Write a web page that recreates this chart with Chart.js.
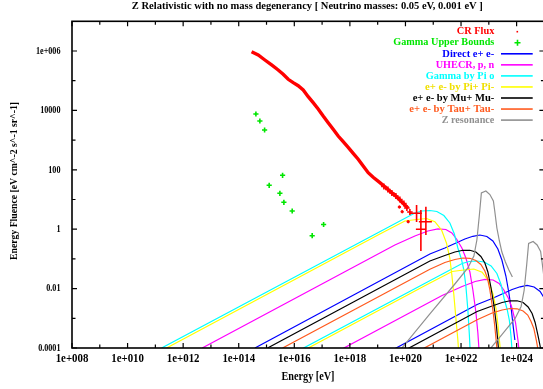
<!DOCTYPE html>
<html><head><meta charset="utf-8">
<script src="https://cdn.jsdelivr.net/npm/chart.js@4.4.1/dist/chart.umd.min.js"></script>
<style>html,body{margin:0;padding:0;overflow:hidden;background:#fff;width:543px;height:389px}canvas{display:block}</style>
</head><body><canvas id="c" width="550" height="389"></canvas>
<script>
// ---- values, as log10(E [eV]) and log10(fluence) ----
const crFluxLogE = [14.463,14.700,14.941,15.183,15.420,15.600,15.780,15.960,16.140,16.320,16.500,16.679,16.859,17.039,17.219,17.399,17.579,17.759,17.939,18.119,18.299,18.479,18.659,18.838,19.080,19.321,19.501,19.681,19.860,19.979,20.098];
const crFluxLogF = [5.976,5.865,5.697,5.529,5.360,5.215,5.047,4.933,4.832,4.687,4.461,4.259,4.047,3.811,3.586,3.364,3.138,2.946,2.758,2.556,2.354,2.128,1.902,1.747,1.566,1.377,1.229,1.094,0.926,0.815,0.704];
const crDotLogE = [19.781,19.882,20.098];
const crDotLogF = [0.747,0.589,0.253];
// CR error bars: centre, x-range, y-range
const crBarE   = [19.224,19.368,19.511,19.655,19.799,19.943,20.051,20.159,20.400,20.555,20.735];
const crBarF   = [1.438,1.337,1.219,1.118,1.000,0.865,0.714,0.579,0.535,-0.003,0.253];
const crBarElo = [19.124,19.268,19.411,19.555,19.699,19.843,19.951,20.059,20.159,20.375,20.483];
const crBarEhi = [19.324,19.468,19.611,19.755,19.899,20.043,20.151,20.259,20.591,20.735,20.951];
const crBarFlo = [1.338,1.237,1.119,1.018,0.900,0.765,0.614,0.479,0.242,-0.734,-0.195];
const crBarFhi = [1.538,1.437,1.319,1.218,1.100,0.965,0.814,0.679,0.815,0.646,0.758];

const gammaUBLogE = [14.618,14.761,14.931,15.578,15.096,15.481,15.625,15.924,17.054,16.643];
const gammaUBLogF = [3.879,3.643,3.340,1.815,1.478,1.209,0.906,0.613,0.158,-0.219];

// each model: curve for m=0.05 eV (a) and m=0.001 eV (b)
const directLogE_a = [14.582,20.879,21.418,21.778,22.138,22.426,22.678,22.930,23.146,23.326,23.470,23.614,23.722,23.811,23.884,23.937];
const directLogF_a = [-4,-0.835,-0.633,-0.481,-0.330,-0.239,-0.195,-0.246,-0.397,-0.667,-1.037,-1.576,-2.148,-2.721,-3.327,-3.731];
const directLogE_b = [16.282,22.579,23.118,23.478,23.838,24.126,24.378,24.630,24.846,25.026,25.170];
const directLogF_b = [-5.7,-2.535,-2.333,-2.181,-2.030,-1.939,-1.895,-1.946,-2.097,-2.367,-2.737];

const uhecrLogE_a = [12.685,19.619,20.339,20.807,21.167,21.455,21.670,21.850,22.030,22.174,22.318,22.426,22.534,22.606,22.660];
const uhecrLogF_a = [-4,-0.533,-0.229,-0.061,0.013,-0.010,-0.128,-0.347,-0.633,-0.970,-1.441,-2.047,-2.788,-3.495,-4.236];
const uhecrLogE_b = [14.385,21.319,22.039,22.507,22.867,23.155,23.370,23.540,23.710,23.840,23.960,24.050,24.130];
const uhecrLogF_b = [-5.7,-2.233,-1.929,-1.761,-1.687,-1.710,-1.828,-2.047,-2.333,-2.670,-3.141,-3.747,-4.488];

const pi0LogE_a = [11.224,20.339,20.591,20.879,21.131,21.382,21.598,21.760,21.886,22.012,22.102,22.174,22.246,22.300,22.336];
const pi0LogF_a = [-4,0.545,0.613,0.630,0.596,0.461,0.209,-0.162,-0.633,-1.003,-1.374,-1.912,-2.721,-3.562,-4.236];
const pi0LogE_b = [12.924,22.039,22.291,22.579,22.831,23.082,23.290,23.440,23.550,23.660,23.740,23.800,23.860];
const pi0LogF_b = [-5.7,-1.155,-1.087,-1.070,-1.104,-1.239,-1.491,-1.862,-2.333,-2.703,-3.074,-3.612,-4.421];

const piPMLogE_a = [11.404,19.080,19.979,20.400,20.760,21.059,21.300,21.480,21.598,21.670,21.742,21.814,21.886,21.922];
const piPMLogF_a = [-4,-0.162,0.276,0.327,0.360,0.253,-0.027,-0.475,-0.980,-1.542,-2.215,-2.990,-3.731,-4.236];
const piPMLogE_b = [13.104,20.780,21.679,22.100,22.460,22.759,22.980,23.150,23.260,23.330,23.400,23.460];
const piPMLogF_b = [-5.7,-1.862,-1.424,-1.373,-1.340,-1.447,-1.727,-2.175,-2.680,-3.242,-3.915,-4.690];

const muLogE_a = [15.039,20.879,21.418,21.778,22.066,22.318,22.534,22.714,22.858,22.966,23.074,23.182,23.272,23.344,23.360];
const muLogF_a = [-4,-1.071,-0.886,-0.768,-0.710,-0.710,-0.768,-0.919,-1.138,-1.441,-1.946,-2.552,-3.226,-4,-4.27];
const muLogE_b = [16.739,22.579,23.118,23.478,23.766,24.018,24.234,24.414,24.558,24.666,24.774,24.860,24.930];
const muLogF_b = [-5.7,-2.771,-2.586,-2.468,-2.410,-2.410,-2.468,-2.619,-2.838,-3.141,-3.600,-4.0,-4.3];

const tauLogE_a = [15.578,20.879,21.418,21.778,22.066,22.318,22.534,22.714,22.858,22.948,23.038,23.146,23.218,23.290,23.310];
const tauLogF_a = [-4,-1.350,-1.121,-1.020,-0.970,-0.980,-1.054,-1.189,-1.407,-1.643,-2.047,-2.721,-3.293,-4,-4.27];
const tauLogE_b = [17.278,22.579,23.118,23.478,23.766,24.018,24.234,24.400,24.520,24.620,24.710,24.800];
const tauLogF_b = [-5.7,-3.050,-2.821,-2.720,-2.670,-2.680,-2.754,-2.889,-3.107,-3.343,-3.747,-4.2];

const zresLogE_a = [19.511,19.871,20.879,21.778,22.246,22.462,22.570,22.660,22.732,22.894,23.038,23.164,23.218,23.290,23.380,23.470,23.596,23.722,23.848];
const zresLogF_a = [-4.488,-4,-2.855,-1.845,-1.306,-0.902,-0.364,0.478,1.219,1.286,1.168,0.949,0.579,0.040,-0.397,-0.768,-1.104,-1.374,-1.609];
const zresLogE_b = [21.211,21.571,22.579,23.478,23.946,24.162,24.270,24.360,24.432,24.594,24.738,24.864,24.918,24.990,25.080];
const zresLogF_b = [-6.188,-5.7,-4.555,-3.545,-3.006,-2.602,-2.064,-1.222,-0.481,-0.414,-0.532,-0.751,-1.121,-1.660,-2.097];

const seriesNames = ['CR Flux','Gamma Upper Bounds','Direct e+ e-','UHECR, p, n','Gamma by Pi o','e+ e- by Pi+ Pi-','e+ e- by Mu+ Mu-','e+ e- by Tau+ Tau-','Z resonance'];
const xMajorTicks = [1e8,1e10,1e12,1e14,1e16,1e18,1e20,1e22,1e24];
const xTickLabels = ['1e+008','1e+010','1e+012','1e+014','1e+016','1e+018','1e+020','1e+022','1e+024'];
const xMinorTicks = [1e9,1e11,1e13,1e15,1e17,1e19,1e21,1e23];
const yMajorTicks = [1e-4,1e-2,1,1e2,1e4,1e6];
const yTickLabels = ['0.0001','0.01','1','100','10000','1e+006'];
const yMinorTicks = [1e-3,1e-1,10,1e3,1e5];

const title = 'Z Relativistic with no mass degenerancy [ Neutrino masses: 0.05 eV, 0.001 eV ]';
const xTitle = 'Energy [eV]';
const yTitle = 'Energy Fluence [eV cm^-2 s^-1 sr^-1]';

// ---- build ----
const pts = (le, lf) => le.map((v, i) => ({x: 10 ** v, y: 10 ** lf[i]}));
const twoCurves = (ea, fa, eb, fb) => pts(ea, fa).concat([{x: 10 ** ea[ea.length - 1], y: null}], pts(eb, fb));

const colors = ['#ff0000','#00e600','#0000ff','#ff00ff','#00ffff','#ffff00','#000000','#ff5a1e','#909090'];
const FONT = '"Liberation Serif","DejaVu Serif",serif';

const curveSets = [
  [directLogE_a, directLogF_a, directLogE_b, directLogF_b],
  [uhecrLogE_a, uhecrLogF_a, uhecrLogE_b, uhecrLogF_b],
  [pi0LogE_a, pi0LogF_a, pi0LogE_b, pi0LogF_b],
  [piPMLogE_a, piPMLogF_a, piPMLogE_b, piPMLogF_b],
  [muLogE_a, muLogF_a, muLogE_b, muLogF_b],
  [tauLogE_a, tauLogF_a, tauLogE_b, tauLogF_b],
  [zresLogE_a, zresLogF_a, zresLogE_b, zresLogF_b]
];

const datasets = [];
curveSets.forEach((c, i) => {
  datasets.push({label: seriesNames[i + 2], data: twoCurves(c[0], c[1], c[2], c[3]), showLine: true,
    borderColor: colors[i + 2], borderWidth: 1.2, pointRadius: 0, spanGaps: false, order: 20 - i});
});
datasets.push({label: seriesNames[0], data: pts(crFluxLogE, crFluxLogF), showLine: true, borderColor: colors[0],
  borderWidth: 3.4, pointRadius: 0, order: 2});
datasets.push({label: 'cr dots', data: pts(crDotLogE, crDotLogF), showLine: false, backgroundColor: colors[0],
  borderColor: colors[0], pointRadius: 1.2, order: 2});
datasets.push({label: seriesNames[1], data: pts(gammaUBLogE, gammaUBLogF), showLine: false, pointStyle: 'cross',
  pointRadius: 2.6, borderWidth: 1.6, borderColor: colors[1], order: 1});

function fitText(ctx, text, x, y, w, font, color, align, rot) {
  ctx.save();
  ctx.font = font; ctx.fillStyle = color; ctx.textBaseline = 'middle'; ctx.textAlign = align;
  const m = ctx.measureText(text).width;
  ctx.translate(x, y);
  if (rot) ctx.rotate(rot);
  ctx.scale(w / m, 1);
  ctx.fillText(text, 0, 0);
  ctx.restore();
}

const deco = {
  id: 'deco',
  afterDatasetsDraw(chart) {
    const {ctx, chartArea: a, scales: {x, y}} = chart;
    ctx.save();
    // CR error bars
    ctx.strokeStyle = colors[0]; ctx.lineWidth = 1.6;
    for (let i = 0; i < crBarE.length; i++) {
      const px = x.getPixelForValue(10 ** crBarE[i]), py = y.getPixelForValue(10 ** crBarF[i]);
      ctx.beginPath();
      ctx.moveTo(x.getPixelForValue(10 ** crBarElo[i]), py); ctx.lineTo(x.getPixelForValue(10 ** crBarEhi[i]), py);
      ctx.moveTo(px, y.getPixelForValue(10 ** crBarFlo[i])); ctx.lineTo(px, y.getPixelForValue(10 ** crBarFhi[i]));
      ctx.stroke();
    }
    // frame
    ctx.strokeStyle = '#000'; ctx.lineWidth = 1.6;
    ctx.strokeRect(a.left, a.top, a.right - a.left, a.bottom - a.top);
    ctx.lineWidth = 1.2;
    ctx.beginPath();
    const tickX = (arr, len) => arr.forEach(v => { const p = x.getPixelForValue(v);
      ctx.moveTo(p, a.bottom); ctx.lineTo(p, a.bottom - len); ctx.moveTo(p, a.top); ctx.lineTo(p, a.top + len); });
    const tickY = (arr, len) => arr.forEach(v => { const p = y.getPixelForValue(v);
      ctx.moveTo(a.left, p); ctx.lineTo(a.left + len, p); ctx.moveTo(a.right, p); ctx.lineTo(a.right - len, p); });
    tickX(xMajorTicks, 5); tickX(xMinorTicks, 3.5); tickY(yMajorTicks, 5); tickY(yMinorTicks, 3.5);
    ctx.stroke();
    // tick labels
    ctx.font = 'bold 12px ' + FONT;
    const kx = 32.7 / ctx.measureText('1e+010').width;
    xMajorTicks.forEach((v, i) => {
      ctx.font = 'bold 12px ' + FONT;
      const w = ctx.measureText(xTickLabels[i]).width * kx;
      fitText(ctx, xTickLabels[i], x.getPixelForValue(v), 359, w, 'bold 12px ' + FONT, '#000', 'center');
    });
    ctx.font = 'bold 10.5px ' + FONT;
    const ky = 24.5 / ctx.measureText('1e+006').width;
    yMajorTicks.forEach((v, i) => {
      ctx.font = 'bold 10.5px ' + FONT;
      const w = ctx.measureText(yTickLabels[i]).width * ky;
      fitText(ctx, yTickLabels[i], 60.5, y.getPixelForValue(v), w, 'bold 10.5px ' + FONT, '#000', 'right');
    });
    // titles
    fitText(ctx, title, 307.3, 6.6, 351, 'bold 10px ' + FONT, '#000', 'center');
    fitText(ctx, xTitle, 308, 376.5, 53, 'bold 12px ' + FONT, '#000', 'center');
    fitText(ctx, yTitle, 14.5, 181, 158, 'bold 10.5px ' + FONT, '#000', 'center', -Math.PI / 2);
    // legend
    const legLeft = [456.7, 393.3, 442.3, 435.7, 425.7, 425, 412.7, 409.3, 441.7];
    seriesNames.forEach((name, si) => {
      const yy = 31.7 + si * 11.05;
      const col = si === 5 ? '#f0e000' : colors[si];
      fitText(ctx, name, 494.3, yy, 494.3 - legLeft[si], 'bold 10.5px ' + FONT, col, 'right');
      ctx.strokeStyle = colors[si]; ctx.fillStyle = colors[si];
      if (si === 0) { ctx.fillRect(516.5, yy - 0.8, 1.6, 1.6); }
      else if (si === 1) { ctx.lineWidth = 1.6; ctx.beginPath(); ctx.moveTo(514.5, yy); ctx.lineTo(520.5, yy);
        ctx.moveTo(517.5, yy - 3); ctx.lineTo(517.5, yy + 3); ctx.stroke(); }
      else { ctx.lineWidth = 1.6; ctx.beginPath(); ctx.moveTo(501, yy); ctx.lineTo(532.7, yy); ctx.stroke(); }
    });
    ctx.restore();
  }
};

Chart.defaults.font.family = FONT;
new Chart(document.getElementById('c'), {
  type: 'scatter',
  data: {datasets},
  options: {
    responsive: false, animation: false, devicePixelRatio: 1,
    layout: {padding: {left: 72, top: 21.3, right: 550 - 544.5, bottom: 389 - 348}},
    plugins: {legend: {display: false}, title: {display: false}, tooltip: {enabled: false}},
    elements: {line: {tension: 0}},
    scales: {
      x: {type: 'logarithmic', min: 1e8, max: 1e25, display: false},
      y: {type: 'logarithmic', min: 1e-4, max: 1e7, display: false}
    }
  },
  plugins: [deco]
});
</script>
</body></html>
